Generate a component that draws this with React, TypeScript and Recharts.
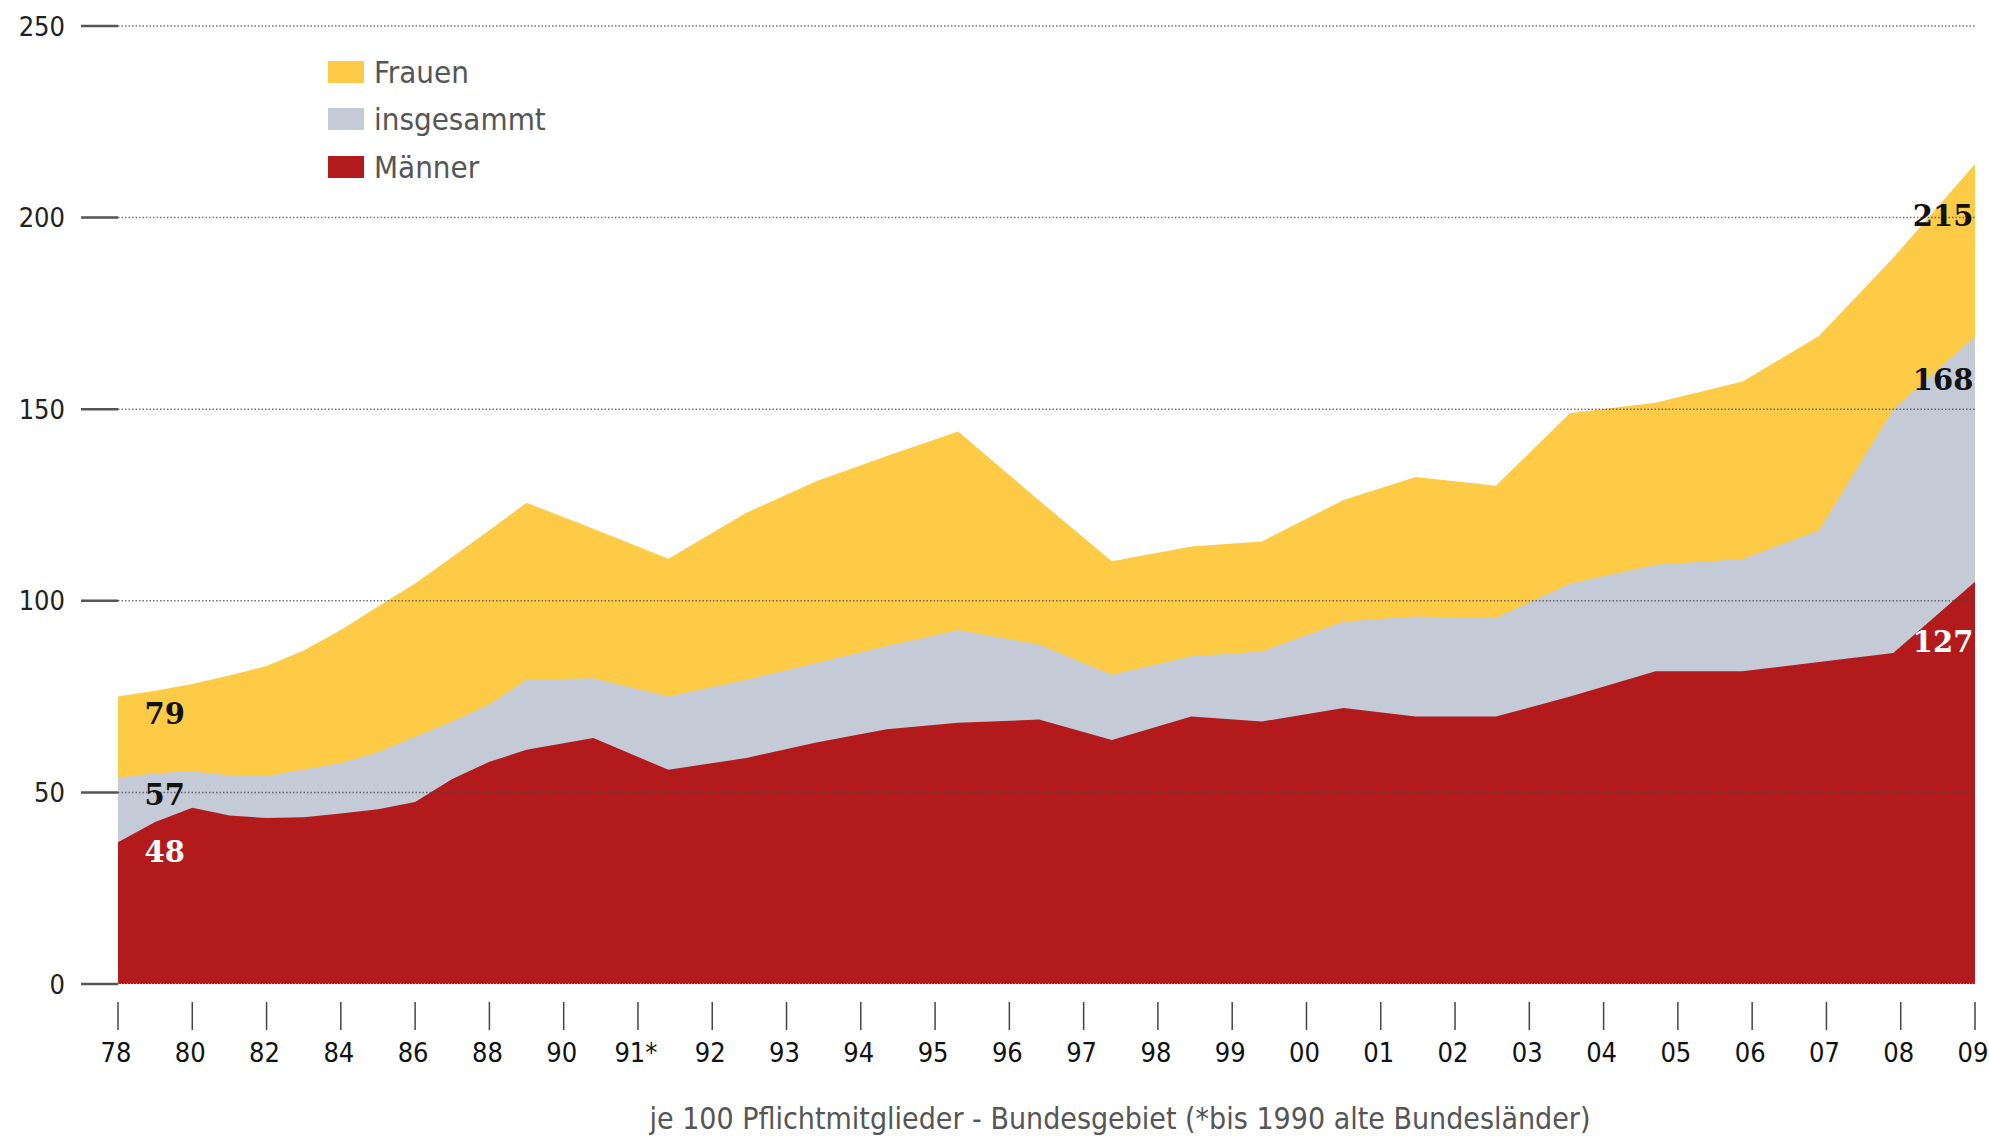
import React from 'react';
import { AreaChart, Area, XAxis, YAxis, ReferenceLine, ReferenceDot } from 'recharts';

const FONT = '"DejaVu Sans Condensed", "Liberation Sans Narrow", "Arial Narrow", "DejaVu Sans", sans-serif';
const LABEL_FONT = '"DejaVu Serif", "Liberation Serif", serif';

const tickLabels = ['78', '80', '82', '84', '86', '88', '90', '91*', '92', '93', '94', '95', '96', '97', '98', '99', '00', '01', '02', '03', '04', '05', '06', '07', '08', '09'];
const tickIdx = tickLabels.map((_, i) => i);
const yTicks = [0, 50, 100, 150, 200, 250];

// where the vertices sit on the tick scale (0 = "78", 25 = "09")
const xPos = [0, 0.5, 1, 1.5, 2, 2.5, 3, 3.5, 4, 4.5, 5, 5.5, 6.4, 7.41, 8.46, 9.4, 10.35, 11.31, 12.4, 13.38, 14.45, 15.4, 16.5, 17.47, 18.55, 19.55, 20.7, 21.87, 22.9, 23.9, 25];
const frauen = [75, 76.5, 78.3, 80.5, 83, 87, 92.4, 98.5, 104.5, 111.4, 118.4, 125.6, 118.8, 111, 123, 131.2, 137.8, 144.2, 126.2, 110.3, 114.2, 115.5, 126.3, 132.3, 130, 149, 151.7, 157.2, 169.1, 189.5, 214];
const insgesamt = [53.8, 55, 55.5, 54.5, 54.3, 56, 57.7, 60.5, 64.5, 68.5, 73, 79.4, 79.8, 75, 79.4, 83.8, 88.2, 92.4, 88.6, 80.7, 85.5, 86.8, 94.6, 95.9, 95.5, 104.5, 109.4, 110.9, 118.4, 150, 169];
const maenner = [37, 42.3, 46, 44, 43.3, 43.5, 44.5, 45.6, 47.5, 53.5, 58, 61.1, 64.2, 55.9, 59, 63, 66.5, 68.2, 69, 63.7, 69.8, 68.5, 72, 69.8, 69.8, 75, 81.6, 81.6, 84, 86.4, 105];

const valueLabels = [
  { text: '79', x: 0.63, y: 70.5, color: '#111' },
  { text: '57', x: 0.63, y: 49.4, color: '#111' },
  { text: '48', x: 0.63, y: 34.5, color: '#fff' },
  { text: '215', x: 24.57, y: 200.3, color: '#111' },
  { text: '168', x: 24.57, y: 157.6, color: '#111' },
  { text: '127', x: 24.57, y: 89.3, color: '#fff' },
];

const series = [
  { key: 'frauen', name: 'Frauen', color: '#FDCB45' },
  { key: 'insgesamt', name: 'insgesammt', color: '#C4CBD7' },
  { key: 'maenner', name: 'Männer', color: '#B21A1B' },
];

const data = xPos.map((x, i) => ({ x, frauen: frauen[i], insgesamt: insgesamt[i], maenner: maenner[i] }));

const XTick = (props: any) => {
  const { x, y, payload } = props;
  return (
    <g>
      <line x1={x} x2={x} y1={y + 18} y2={y + 46} stroke="#444" strokeWidth={1.5} />
      <text x={x - 2} y={y + 78} textAnchor="middle" fontSize={27} fontFamily={FONT} fill="#111">
        {tickLabels[payload.value]}
      </text>
    </g>
  );
};

export default function App() {
  return (
    <div style={{ position: 'absolute', left: 0, top: 0, width: 1989, height: 1136, background: '#fff' }}>
      <AreaChart width={1989} height={1136} data={data} margin={{ top: 26, right: 14, left: 0, bottom: 0 }}>
        <XAxis
          type="number"
          dataKey="x"
          domain={[0, 25]}
          ticks={tickIdx}
          interval={0}
          tick={<XTick />}
          tickLine={false}
          tickSize={0}
          tickMargin={0}
          height={152}
          axisLine={{ stroke: '#ccc', strokeDasharray: '1 2' }}
        />
        <YAxis
          domain={[0, 250]}
          ticks={yTicks}
          width={118}
          tickSize={37}
          tickMargin={16}
          axisLine={false}
          tickLine={{ stroke: '#555', strokeWidth: 2.5 }}
          tick={{ fill: '#222', fontSize: 27, fontFamily: FONT }}
        />
        {series.map((s) => (
          <Area
            key={s.key}
            type="linear"
            dataKey={s.key}
            name={s.name}
            stroke="none"
            fill={s.color}
            fillOpacity={1}
            isAnimationActive={false}
          />
        ))}
        {yTicks.filter((t) => t > 0).map((t) => (
          <ReferenceLine key={t} y={t} stroke="rgba(70,70,70,0.75)" strokeDasharray="1.5 2" strokeWidth={1.5} />
        ))}
        {valueLabels.map((l) => (
          <ReferenceDot
            key={l.text}
            x={l.x}
            y={l.y}
            r={0}
            ifOverflow="visible"
            shape={(p: any) => (
              <text x={p.cx} y={p.cy} textAnchor="middle" dominantBaseline="central" fontSize={29} fontWeight="bold" fontFamily={LABEL_FONT} fill={l.color}>
                {l.text}
              </text>
            )}
          />
        ))}
      </AreaChart>

      <div style={{ position: 'absolute', left: 328, top: 48, fontFamily: FONT, fontSize: 31, color: '#555' }}>
        {series.map((s) => (
          <div key={s.key} style={{ display: 'flex', alignItems: 'center', height: 47.5 }}>
            <span style={{ display: 'inline-block', width: 36, height: 22, background: s.color, marginRight: 10 }} />
            <span>{s.name}</span>
          </div>
        ))}
      </div>

      <div style={{ position: 'absolute', left: 420, top: 1100, width: 1400, textAlign: 'center', fontFamily: FONT, fontSize: 30, color: '#555', lineHeight: '38px' }}>
        je 100 Pflichtmitglieder - Bundesgebiet (*bis 1990 alte Bundesländer)
      </div>
    </div>
  );
}
